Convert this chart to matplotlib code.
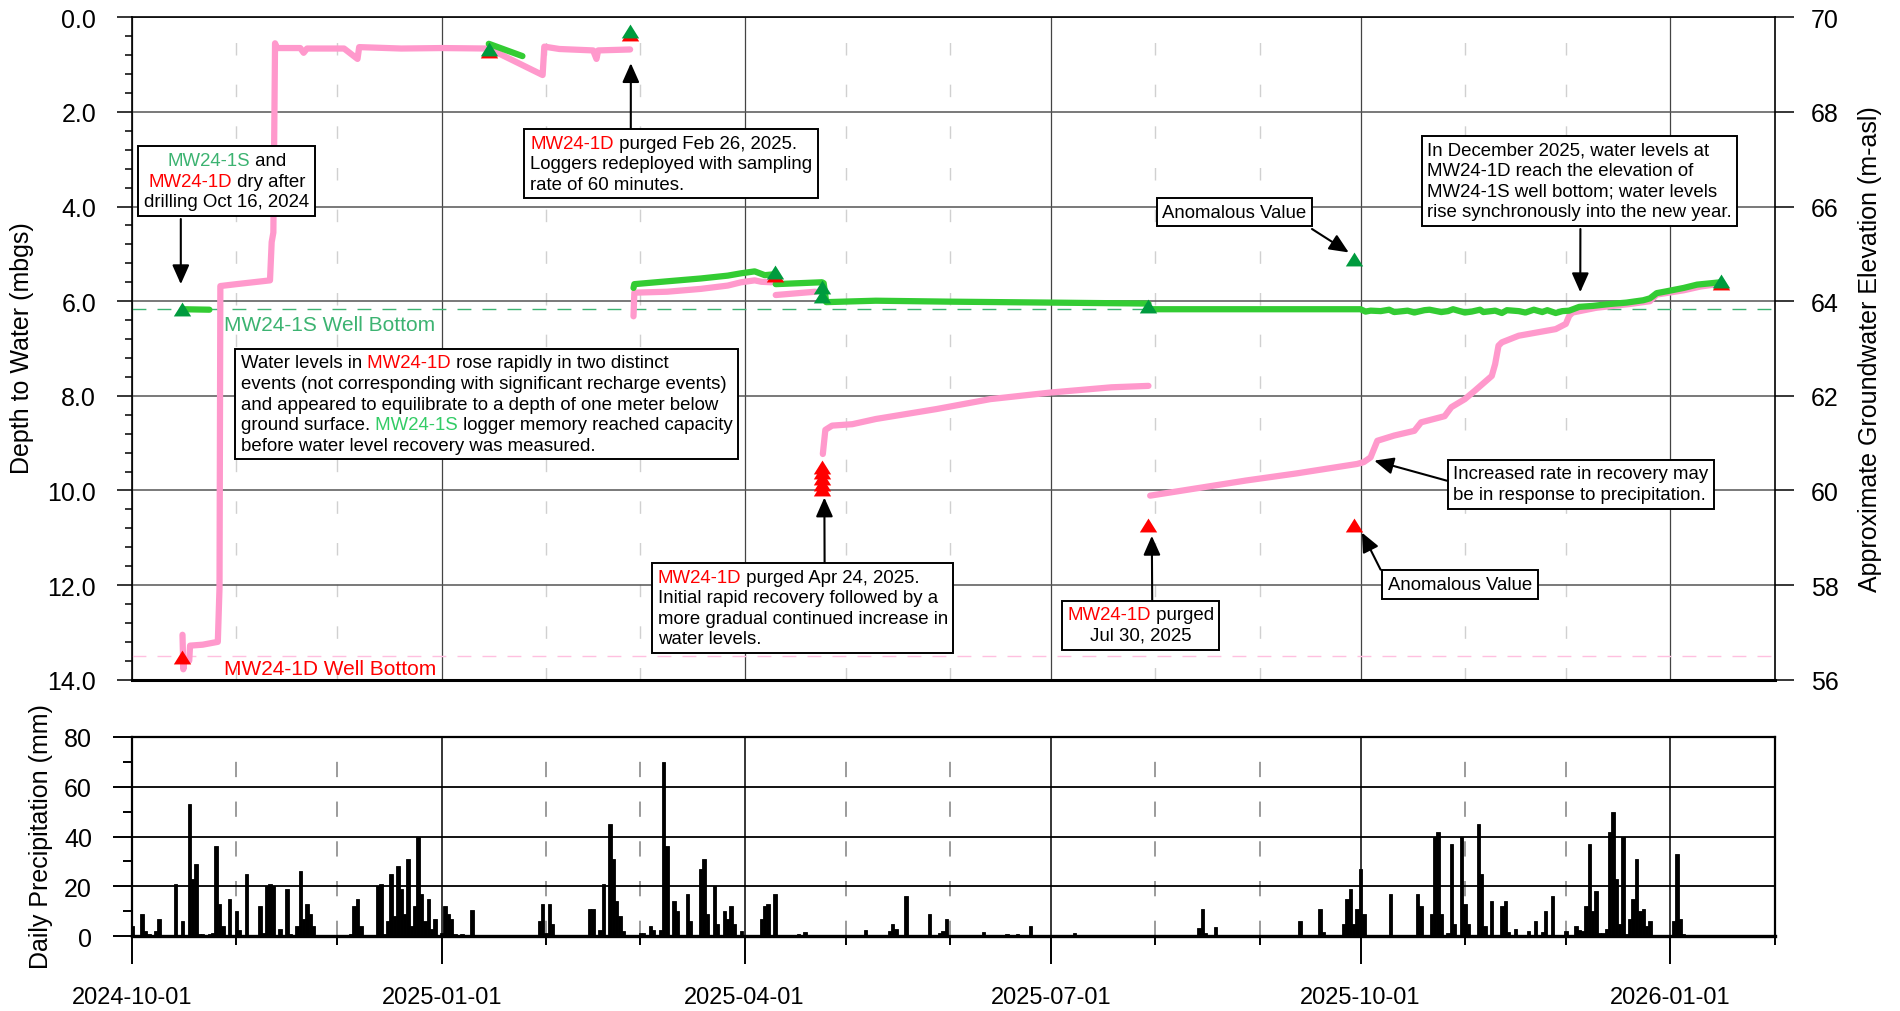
import numpy as np
import pandas as pd
import matplotlib
matplotlib.use("Agg")
import matplotlib.pyplot as plt
import matplotlib.dates as mdates
from matplotlib.ticker import MultipleLocator, FormatStrFormatter
from matplotlib.offsetbox import TextArea, HPacker, VPacker, AnnotationBbox

plt.rcParams["font.family"] = ["Liberation Sans", "DejaVu Sans"]

NaN = float("nan")

# ---------------------------------------------------------------------------
# MW24-1D (deep well) logger record: depth to water, m below ground surface
# (NaN entries split the record where the logger was pulled)
mw1d_time = [
    "2024-10-16 00:00", "2024-10-16 06:00", "2024-10-16 12:00", "2024-10-18 00:00",
    "2024-10-18 06:00", "2024-10-22 00:00", "2024-10-26 12:00", "2024-10-27 00:00",
    "2024-10-27 06:00", "2024-11-01 00:00", "2024-11-06 00:00", "2024-11-11 00:00",
    "2024-11-11 12:00", "2024-11-12 00:00", "2024-11-12 12:00", "2024-11-13 00:00",
    "2024-11-20 00:00", "2024-11-21 00:00", "2024-11-22 00:00", "2024-12-03 00:00",
    "2024-12-07 00:00", "2024-12-07 12:00", "2024-12-20 00:00", "2025-01-01 00:00",
    "2025-01-15 00:00", "2025-01-31 00:00", "2025-01-31 12:00", "2025-02-05 00:00",
    "2025-02-15 00:00", "2025-02-16 00:00", "2025-02-16 12:00", "2025-02-26 00:00",
    "2025-02-26 12:00",
    "2025-02-27 00:00", "2025-02-27 06:00", "2025-03-09 00:00", "2025-03-19 00:00",
    "2025-03-27 00:00", "2025-03-31 00:00", "2025-04-04 00:00", "2025-04-06 00:00",
    "2025-04-09 00:00",
    "2025-04-09 12:00",
    "2025-04-10 06:00", "2025-04-22 00:00",
    "2025-04-23 00:00",
    "2025-04-24 06:00", "2025-04-25 00:00", "2025-04-27 00:00", "2025-05-03 00:00",
    "2025-05-10 00:00", "2025-05-28 00:00", "2025-06-13 00:00", "2025-07-01 00:00",
    "2025-07-19 00:00", "2025-07-30 00:00",
    "2025-07-30 06:00",
    "2025-07-30 12:00", "2025-08-28 00:00", "2025-09-12 00:00", "2025-09-30 00:00",
    "2025-10-02 00:00", "2025-10-04 00:00", "2025-10-06 00:00", "2025-10-11 00:00",
    "2025-10-17 00:00", "2025-10-19 00:00", "2025-10-26 00:00", "2025-10-28 00:00",
    "2025-11-01 00:00", "2025-11-04 00:00", "2025-11-09 00:00", "2025-11-10 00:00",
    "2025-11-11 00:00", "2025-11-12 00:00", "2025-11-17 00:00", "2025-11-28 00:00",
    "2025-12-01 00:00", "2025-12-02 00:00", "2025-12-03 00:00", "2025-12-10 00:00",
    "2025-12-20 00:00", "2025-12-26 00:00", "2025-12-28 00:00", "2026-01-05 00:00",
    "2026-01-10 00:00", "2026-01-16 00:00",
]
mw1d_depth = [
    13.05, 13.78, 13.60, 13.60,
    13.28, 13.26, 13.20, 12.05,
    5.68, 5.64, 5.60, 5.56,
    4.75, 4.55, 0.55, 0.65,
    0.65, 0.75, 0.66, 0.66,
    0.88, 0.63, 0.66, 0.65,
    0.66, 1.22, 0.62, 0.67,
    0.70, 0.88, 0.70, 0.68,
    NaN,
    6.32, 5.82, 5.80, 5.74,
    5.67, 5.60, 5.56, 5.59,
    5.60,
    NaN,
    5.87, 5.80,
    NaN,
    9.23, 8.72, 8.63, 8.60,
    8.49, 8.28, 8.07, 7.93,
    7.82, 7.79,
    NaN,
    10.11, 9.79, 9.64, 9.44,
    9.40, 9.30, 8.95, 8.84,
    8.74, 8.56, 8.43, 8.24,
    8.07, 7.89, 7.58, 7.33,
    6.94, 6.87, 6.73, 6.59,
    6.48, 6.31, 6.24, 6.14,
    6.06, 6.00, 5.86, 5.77,
    5.69, 5.63,
]

# MW24-1S (shallow well) logger record
mw1s_time = [
    "2024-10-16 00:00", "2024-10-24 00:00",
    "2024-12-01 00:00",
    "2025-01-15 00:00", "2025-01-25 00:00",
    "2025-02-01 00:00",
    "2025-02-27 00:00", "2025-02-27 06:00", "2025-03-09 00:00", "2025-03-19 00:00",
    "2025-03-27 00:00", "2025-03-31 00:00", "2025-04-04 00:00", "2025-04-07 00:00",
    "2025-04-10 00:00",
    "2025-04-10 03:00",
    "2025-04-10 06:00", "2025-04-24 00:00", "2025-04-24 12:00", "2025-04-25 06:00",
    "2025-05-10 00:00", "2025-06-01 00:00", "2025-07-01 00:00", "2025-07-30 00:00",
    "2025-07-30 06:00",
    "2025-07-30 12:00", "2025-08-30 00:00", "2025-10-01 00:00", "2025-10-02 12:00",
    "2025-10-04 00:00", "2025-10-07 00:00", "2025-10-09 12:00", "2025-10-11 00:00",
    "2025-10-15 00:00", "2025-10-17 00:00", "2025-10-20 00:00", "2025-10-21 12:00",
    "2025-10-25 00:00", "2025-10-27 00:00", "2025-10-28 12:00", "2025-11-01 00:00",
    "2025-11-03 00:00", "2025-11-05 12:00", "2025-11-06 12:00", "2025-11-10 00:00",
    "2025-11-12 00:00", "2025-11-13 12:00", "2025-11-17 00:00", "2025-11-19 00:00",
    "2025-11-21 12:00", "2025-11-24 00:00", "2025-11-25 12:00", "2025-11-28 00:00",
    "2025-11-30 00:00", "2025-12-02 00:00",
    "2025-12-05 00:00", "2025-12-09 00:00", "2025-12-14 00:00", "2025-12-19 00:00",
    "2025-12-24 00:00", "2025-12-26 00:00", "2025-12-28 00:00", "2025-12-31 00:00",
    "2026-01-05 00:00", "2026-01-09 00:00", "2026-01-16 00:00",
]
mw1s_depth = [
    6.17, 6.18,
    NaN,
    0.56, 0.82,
    NaN,
    5.72, 5.64, 5.58, 5.52,
    5.46, 5.41, 5.37, 5.45,
    5.43,
    NaN,
    5.64, 5.60, 5.62, 6.02,
    5.99, 6.01, 6.03, 6.05,
    NaN,
    6.17, 6.17, 6.17, 6.22,
    6.20, 6.21, 6.18, 6.23,
    6.20, 6.24, 6.19, 6.18,
    6.23, 6.21, 6.17, 6.24,
    6.22, 6.18, 6.23, 6.20,
    6.25, 6.19, 6.21, 6.24,
    6.18, 6.23, 6.19, 6.25,
    6.21, 6.20,
    6.12, 6.10, 6.06, 6.03,
    5.98, 5.94, 5.83, 5.79,
    5.72, 5.65, 5.60,
]

# Manual water level measurements
mw1s_manual_time = ["2024-10-16", "2025-01-15", "2025-02-26", "2025-04-10",
                    "2025-04-24", "2025-04-24", "2025-07-30", "2025-09-29",
                    "2026-01-16"]
mw1s_manual_depth = [6.17, 0.67, 0.30, 5.39, 5.71, 5.88, 6.10, 5.11, 5.57]

mw1d_manual_time = ["2024-10-16", "2025-01-15", "2025-02-26", "2025-04-10",
                    "2025-04-24", "2025-04-24", "2025-04-24", "2025-04-24",
                    "2025-04-24", "2025-07-30", "2025-09-29", "2026-01-16"]
mw1d_manual_depth = [13.51, 0.72, 0.35, 5.45, 9.50, 9.62, 9.74, 9.86, 9.97,
                     10.73, 10.73, 5.62]

# Well bottoms (m below ground surface)
mw1s_bottom = 6.17
mw1d_bottom = 13.5

# Daily precipitation (mm)
precip_date = [
    "2024-10-01", "2024-10-04", "2024-10-05", "2024-10-06", "2024-10-07", "2024-10-08",
    "2024-10-09", "2024-10-13", "2024-10-14", "2024-10-15", "2024-10-16", "2024-10-18",
    "2024-10-19", "2024-10-20", "2024-10-21", "2024-10-22", "2024-10-24", "2024-10-25",
    "2024-10-26", "2024-10-27", "2024-10-28", "2024-10-30", "2024-11-01", "2024-11-02",
    "2024-11-04", "2024-11-08", "2024-11-09", "2024-11-10", "2024-11-11", "2024-11-12",
    "2024-11-14", "2024-11-16", "2024-11-17", "2024-11-19", "2024-11-20", "2024-11-21",
    "2024-11-22", "2024-11-23", "2024-11-24", "2024-12-01", "2024-12-02", "2024-12-05",
    "2024-12-06", "2024-12-07", "2024-12-08", "2024-12-13", "2024-12-14", "2024-12-15",
    "2024-12-16", "2024-12-17", "2024-12-18", "2024-12-19", "2024-12-20", "2024-12-21",
    "2024-12-22", "2024-12-23", "2024-12-24", "2024-12-25", "2024-12-26", "2024-12-27",
    "2024-12-28", "2024-12-29", "2024-12-30", "2025-01-01", "2025-01-02", "2025-01-03",
    "2025-01-04", "2025-01-05", "2025-01-07", "2025-01-08", "2025-01-10", "2025-01-16",
    "2025-01-30", "2025-01-31", "2025-02-01", "2025-02-02", "2025-02-03", "2025-02-14",
    "2025-02-15", "2025-02-17", "2025-02-18", "2025-02-19", "2025-02-20", "2025-02-21",
    "2025-02-22", "2025-02-23", "2025-02-24", "2025-02-26", "2025-02-27", "2025-03-01",
    "2025-03-02", "2025-03-04", "2025-03-05", "2025-03-07", "2025-03-08", "2025-03-09",
    "2025-03-11", "2025-03-12", "2025-03-15", "2025-03-16", "2025-03-19", "2025-03-20",
    "2025-03-21", "2025-03-23", "2025-03-24", "2025-03-26", "2025-03-27", "2025-03-28",
    "2025-03-29", "2025-03-31", "2025-04-06", "2025-04-07", "2025-04-08", "2025-04-10",
    "2025-04-17", "2025-04-19", "2025-05-01", "2025-05-07", "2025-05-11", "2025-05-14",
    "2025-05-15", "2025-05-16", "2025-05-19", "2025-05-26", "2025-05-29", "2025-05-30",
    "2025-05-31", "2025-06-11", "2025-06-18", "2025-06-21", "2025-06-25", "2025-07-08",
    "2025-07-15", "2025-07-30", "2025-08-14", "2025-08-15", "2025-08-16", "2025-08-19",
    "2025-09-05", "2025-09-13", "2025-09-16", "2025-09-19", "2025-09-20", "2025-09-26",
    "2025-09-27", "2025-09-28", "2025-09-29", "2025-09-30", "2025-10-01", "2025-10-02",
    "2025-10-05", "2025-10-10", "2025-10-18", "2025-10-19", "2025-10-22", "2025-10-23",
    "2025-10-24", "2025-10-25", "2025-10-27", "2025-10-28", "2025-10-29", "2025-10-31",
    "2025-11-01", "2025-11-02", "2025-11-05", "2025-11-06", "2025-11-07", "2025-11-09",
    "2025-11-12", "2025-11-13", "2025-11-14", "2025-11-16", "2025-11-20", "2025-11-22",
    "2025-11-24", "2025-11-25", "2025-11-27", "2025-12-01", "2025-12-04", "2025-12-05",
    "2025-12-06", "2025-12-07", "2025-12-08", "2025-12-09", "2025-12-10", "2025-12-11",
    "2025-12-12", "2025-12-13", "2025-12-14", "2025-12-15", "2025-12-16", "2025-12-17",
    "2025-12-18", "2025-12-19", "2025-12-20", "2025-12-21", "2025-12-22", "2025-12-23",
    "2025-12-24", "2025-12-25", "2025-12-26", "2025-12-28", "2026-01-02", "2026-01-03",
    "2026-01-04", "2026-01-05",
]
precip_mm = [
    4, 9, 2, 1, 0.5, 2,
    7, 0.5, 21, 0.5, 6, 53,
    23, 29, 1, 1, 1, 1.5,
    36, 13, 4, 15, 10, 2.5,
    25, 12, 1.5, 20, 21, 20,
    3, 19, 1, 4, 26, 7,
    13, 9, 4, 0.4, 0.5, 1,
    12, 15, 4, 20, 21, 1,
    6, 25, 8, 28, 19, 9,
    31, 4, 12, 40, 17, 6,
    15, 3, 7, 1.5, 12, 9,
    7, 1, 1, 0.5, 10.5, 0.7,
    6, 13, 1.3, 13, 5, 11,
    11, 2.5, 21, 0.5, 45, 31,
    14, 8, 2.3, 0.6, 0.6, 1.2,
    1.3, 4, 2.7, 2.7, 70, 36,
    14, 10, 17, 6, 27, 31,
    9, 20, 5, 10, 7, 12,
    5, 2, 7, 12, 13, 17,
    1, 1.6, 0.5, 2.4, 0.5, 2,
    5, 2.9, 16, 9, 1.3, 2.3,
    7, 1.6, 0.9, 0.8, 4.3, 1.3,
    0.3, 0.3, 3.3, 11, 1.2, 3.6,
    0.3, 6, 0.7, 11, 1.9, 5,
    15, 19, 5, 11, 27, 9,
    0.4, 17, 17, 12, 9, 40,
    42, 9, 1.3, 37, 5, 40,
    13, 5, 45, 25, 4, 14,
    12, 14, 1.6, 3, 2, 6,
    1.6, 10, 16, 2, 4, 2.7,
    2, 12, 37, 10, 18, 1.3,
    1.3, 3, 42, 50, 23, 5,
    40, 1, 7, 15, 31, 10,
    11, 4, 6, 0.5, 6, 33,
    7, 1,
]

# ---------------------------------------------------------------------------
PINK = "#FF99CC"
GREEN_LINE = "#33CC33"
GREEN_MARK = "#009B3E"
RED = "#FF0000"
SEA = "#3CB371"
BRIGHT_GREEN = "#33CC66"

W, H = 1900, 1012
AX_L, AX_R = 132.0, 1774.5
TOP_T, TOP_B = 18.3, 680.7
BOT_T, BOT_B = 737.7, 937.3

fig = plt.figure(figsize=(W / 100, H / 100), dpi=100)


def fig_rect(l, t, r, b):
    return [l / W, 1 - b / H, (r - l) / W, (b - t) / H]


ax = fig.add_axes(fig_rect(AX_L, TOP_T, AX_R, TOP_B))
axp = fig.add_axes(fig_rect(AX_L, BOT_T, AX_R, BOT_B))

x0, x1 = pd.Timestamp("2024-10-01"), pd.Timestamp("2026-02-01")


def to_axes(px, py):
    """Pixel position inside the upper panel -> axes fraction."""
    return ((px - AX_L) / (AX_R - AX_L), 1 - (py - TOP_T) / (TOP_B - TOP_T))


# ---------------------------------------------------------------- upper panel
ax.set_xlim(x0, x1)
ax.set_ylim(14, 0)
ax.yaxis.set_major_locator(MultipleLocator(2))
ax.yaxis.set_minor_locator(MultipleLocator(0.4))
ax.yaxis.set_major_formatter(FormatStrFormatter("%.1f"))
ax.xaxis.set_major_locator(mdates.MonthLocator(bymonth=[1, 4, 7, 10]))
ax.xaxis.set_minor_locator(mdates.MonthLocator())
ax.tick_params(axis="x", which="both", length=0, labelbottom=False)
ax.tick_params(axis="y", which="major", direction="out", length=10.8, width=1.1,
               pad=15, labelsize=18)
ax.tick_params(axis="y", which="minor", direction="out", length=5, width=1.1)
ax.grid(True, axis="y", which="major", color="#555555", lw=1.1)
ax.grid(True, axis="x", which="major", color="#444444", lw=0.9)
ax.grid(True, axis="x", which="minor", color="#d0d0d0", lw=1.0, dashes=(9, 21))
ax.set_axisbelow(True)
for side in ("top", "left", "right"):
    ax.spines[side].set_linewidth(1.2)
ax.spines["bottom"].set_linewidth(2.2)

ax.axhline(mw1s_bottom, color=SEA, lw=1.0, dashes=(10, 8), zorder=2)
ax.axhline(mw1d_bottom, color="#FFC0E0", lw=1.0, dashes=(10, 8), zorder=2)

t1d = pd.to_datetime(mw1d_time)
t1s = pd.to_datetime(mw1s_time)
ax.plot(t1d, np.array(mw1d_depth, float), color=PINK, lw=4.5,
        solid_capstyle="round", solid_joinstyle="round", zorder=3)
ax.plot(t1s, np.array(mw1s_depth, float), color=GREEN_LINE, lw=4.5,
        solid_capstyle="round", solid_joinstyle="round", zorder=4)

tri = [(-1, -0.8), (1, -0.8), (0, 0.8), (-1, -0.8)]
ax.plot(pd.to_datetime(mw1d_manual_time), mw1d_manual_depth, ls="none",
        marker=tri, ms=12.5, color=RED, mec="none", zorder=5)
ax.plot(pd.to_datetime(mw1s_manual_time), mw1s_manual_depth, ls="none",
        marker=tri, ms=12.5, color=GREEN_MARK, mec="none", zorder=6)

ax.text(*to_axes(224.5, 326), "MW24-1S Well Bottom", transform=ax.transAxes,
        color=SEA, fontsize=15, ha="left", va="center")
ax.text(*to_axes(224.5, 669.3), "MW24-1D Well Bottom", transform=ax.transAxes,
        color=RED, fontsize=15, ha="left", va="center")

axr = ax.twinx()
axr.set_ylim(56, 70)
axr.yaxis.set_major_locator(MultipleLocator(2))
axr.yaxis.set_major_formatter(FormatStrFormatter("%d"))
axr.tick_params(axis="y", direction="out", length=13.4, width=1.1, pad=13,
                labelsize=18)
for sp in axr.spines.values():
    sp.set_visible(False)

# ------------------------------------------------------------- text callouts
FS = 13.4
K = "black"
PAD = 0.34
PAD_PX = PAD * FS * 100 / 72


def callout(lines, px, py, align="left"):
    rows = []
    for line in lines:
        parts = [TextArea(txt, textprops=dict(color=c, fontsize=FS)) for txt, c in line]
        rows.append(HPacker(children=parts, align="baseline", pad=0, sep=0))
    box = VPacker(children=rows, align=align, pad=0, sep=2.6)
    if align == "center":
        xy, bal = to_axes(px, py + PAD_PX), (0.5, 1)
    else:
        xy, bal = to_axes(px + PAD_PX, py + PAD_PX), (0, 1)
    ab = AnnotationBbox(box, xy, xycoords="axes fraction", box_alignment=bal,
                        frameon=True, pad=PAD, fontsize=FS,
                        bboxprops=dict(boxstyle="square", facecolor="white",
                                       edgecolor="black", lw=1.4), zorder=10)
    ax.add_artist(ab)


def arrow(tip_time, tip_depth, tail_px, tail_py):
    ax.annotate("", xy=(mdates.date2num(pd.Timestamp(tip_time)), tip_depth),
                xycoords="data", xytext=to_axes(tail_px, tail_py),
                textcoords="axes fraction", zorder=11,
                arrowprops=dict(arrowstyle="-|>,head_length=0.9,head_width=0.4",
                                mutation_scale=13, lw=1.5, color="black",
                                shrinkA=0, shrinkB=0))


callout([[("MW24-1S", SEA), (" and", K)],
         [("MW24-1D", RED), (" dry after", K)],
         [("drilling Oct 16, 2024", K)]], 226.5, 146.7, align="center")
arrow("2024-10-15 12:00", 5.64, 180.8, 220)

callout([[("MW24-1D", RED), (" purged Feb 26, 2025.", K)],
         [("Loggers redeployed with sampling", K)],
         [("rate of 60 minutes.", K)]], 523.7, 129.3)
arrow("2025-02-26 05:00", 0.97, 630.8, 129.3)

callout([[("Water levels in", K), (" MW24-1D", RED), (" rose rapidly in two distinct", K)],
         [("events (not corresponding with significant recharge events)", K)],
         [("and appeared to equilibrate to a depth of one meter below", K)],
         [("ground surface.", K), (" MW24-1S", BRIGHT_GREEN),
          (" logger memory reached capacity", K)],
         [("before water level recovery was measured.", K)]], 234.4, 349)

callout([[("MW24-1D", RED), (" purged Apr 24, 2025.", K)],
         [("Initial rapid recovery followed by a", K)],
         [("more gradual continued increase in", K)],
         [("water levels.", K)]], 651.3, 563.3)
arrow("2025-04-24 17:00", 10.15, 824.6, 563.3)

callout([[("MW24-1D", RED), (" purged", K)],
         [("Jul 30, 2025", K)]], 1140.4, 601, align="center")
arrow("2025-07-31 00:00", 10.96, 1152.2, 601)

callout([[("Anomalous Value", K)]], 1155.8, 198.3)
arrow("2025-09-27 12:00", 4.97, 1312, 230)

callout([[("Anomalous Value", K)]], 1381.4, 570.7)
arrow("2025-10-01 10:00", 10.89, 1380.6, 570.7)

callout([[("Increased rate in recovery may", K)],
         [("be in response to precipitation.", K)]], 1446.9, 460)
arrow("2025-10-05 02:00", 9.37, 1446.9, 481.7)

callout([[("In December 2025, water levels at", K)],
         [("MW24-1D reach the elevation of", K)],
         [("MW24-1S well bottom; water levels", K)],
         [("rise synchronously into the new year.", K)]], 1420.8, 136)
arrow("2025-12-05 07:00", 5.81, 1580.4, 230)

# ---------------------------------------------------------------- lower panel
axp.bar(pd.to_datetime(precip_date), precip_mm, width=1.0, color="black",
        edgecolor="black", lw=0.6, zorder=3)
axp.set_xlim(x0, x1)
axp.set_ylim(0, 80)
axp.yaxis.set_major_locator(MultipleLocator(20))
axp.yaxis.set_minor_locator(MultipleLocator(10))
axp.xaxis.set_major_locator(mdates.MonthLocator(bymonth=[1, 4, 7, 10]))
axp.xaxis.set_minor_locator(mdates.MonthLocator())
axp.xaxis.set_major_formatter(mdates.DateFormatter("%Y-%m-%d"))
axp.tick_params(axis="x", which="major", direction="out", length=20, width=1.4,
                pad=16, labelsize=17)
axp.tick_params(axis="x", which="minor", direction="out", length=6.8, width=1.4)
axp.tick_params(axis="y", which="major", direction="out", length=13.8, width=1.4,
                pad=15, labelsize=18)
axp.tick_params(axis="y", which="minor", direction="out", length=6.5, width=1.4)
axp.grid(True, axis="y", which="major", color="black", lw=1.3)
axp.grid(True, axis="x", which="major", color="black", lw=1.1)
axp.grid(True, axis="x", which="minor", color="#808080", lw=1.1, dashes=(10, 16))
axp.set_axisbelow(True)
for sp in axp.spines.values():
    sp.set_linewidth(1.6)
axp.spines["bottom"].set_linewidth(2.4)

# ---------------------------------------------------------------- axis titles
fig.text(22 / W, 1 - 348 / H, "Depth to Water (mbgs)", rotation=90,
         ha="center", va="center", fontsize=18)
fig.text(1870 / W, 1 - 349 / H, "Approximate Groundwater Elevation (m-asl)",
         rotation=90, ha="center", va="center", fontsize=18)
fig.text(41 / W, 1 - 837 / H, "Daily Precipitation (mm)", rotation=90,
         ha="center", va="center", fontsize=18)

fig.savefig("out.png", dpi=100)
